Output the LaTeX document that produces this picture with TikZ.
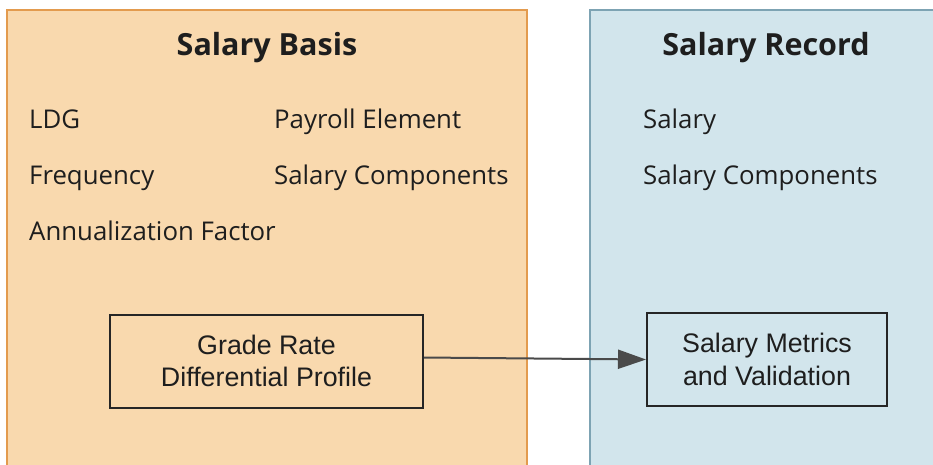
\documentclass[tikz,border=0pt]{standalone}
\usepackage{fontspec}
\setmainfont{Open Sans}
\newfontfamily\arialf{Liberation Sans}
\usetikzlibrary{arrows.meta,calc}
\definecolor{orfill}{HTML}{F9D9AE}
\definecolor{orline}{HTML}{E39B4E}
\definecolor{blfill}{HTML}{D2E5EC}
\definecolor{blline}{HTML}{7DA3B3}
\definecolor{txt}{HTML}{1E1E1E}
\definecolor{arrowc}{HTML}{4A4A4A}
\tikzset{
  panelA/.style={fill=orfill, draw=orline, line width=1.5pt},
  panelB/.style={fill=blfill, draw=blline, line width=1.5pt},
  ptitle/.style={font=\fontsize{30.5}{36}\selectfont\bfseries, anchor=base, inner sep=0pt, text=txt},
  lbl/.style={font=\fontsize{25.8}{30}\selectfont, anchor=base west, inner sep=0pt, text=txt},
  boxn/.style={draw=black!85, line width=2pt, font=\arialf\fontsize{26.8}{32.5}\selectfont, align=center, text=txt, inner sep=0pt},
  conn/.style={draw=arrowc, line width=2pt, -{Triangle[length=28pt,width=19pt]}}
}
\begin{document}
\begin{tikzpicture}[x=1pt,y=-1pt]
\useasboundingbox (0,0) rectangle (933,464);
\clip (0,0) rectangle (933,464);
\draw[panelA] (7,10) rectangle (527,480);
\draw[panelB] (590,10) rectangle (945,480);

\node[ptitle] (tA) at (267,55) {Salary Basis};
\node[ptitle] (tB) at (766,55) {Salary Record};

\node[lbl] (ldg) at (29,128) {LDG};
\node[lbl] (freq) at (29,184) {Frequency};
\node[lbl] (annf) at (29,240) {Annualization Factor};
\node[lbl] (pel) at (274,128) {Payroll Element};
\node[lbl] (scA) at (274,184) {Salary Components};
\node[lbl] (sal) at (643,128) {Salary};
\node[lbl] (scB) at (643,184) {Salary Components};

\node[boxn, minimum width=313pt, minimum height=93pt] (grd) at (266.5,361) {Grade Rate\\Differential Profile};
\node[boxn, minimum width=240pt, minimum height=93pt] (smv) at (767,359.5) {Salary Metrics\\and Validation};

\draw[conn] ($(grd.east)+(0,-3.5)$) -- (smv.west);
\end{tikzpicture}
\end{document}
